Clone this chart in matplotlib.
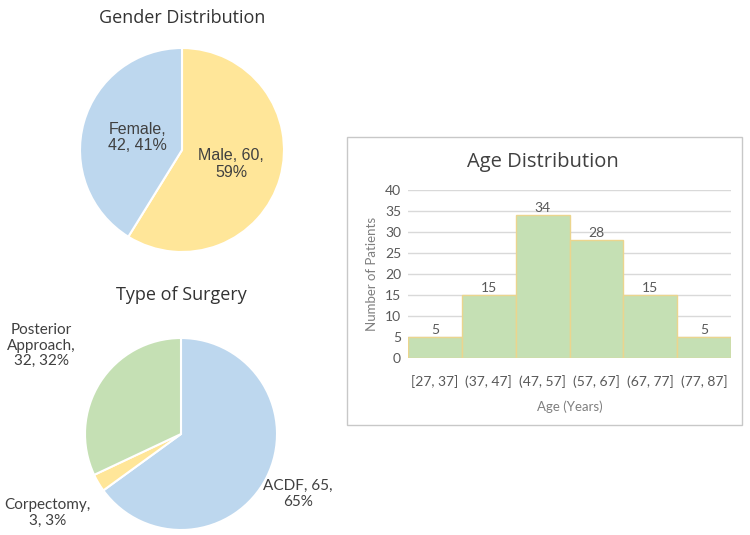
import numpy as np
import matplotlib
matplotlib.use('Agg')
import matplotlib.pyplot as plt
from matplotlib.patches import Rectangle

# ---------------- data ----------------
gender_labels = ['Male', 'Female']
gender_counts = [60, 42]
gender_pct = [59, 41]

surgery_labels = ['ACDF', 'Corpectomy', 'Posterior\nApproach']
surgery_counts = [65, 3, 32]
surgery_pct = [65, 3, 32]

age_bins = ['[27, 37]', '(37, 47]', '(47, 57]', '(57, 67]', '(67, 77]', '(77, 87]']
age_counts = [5, 15, 34, 28, 15, 5]

blue = '#BDD7EE'
yellow = '#FFE699'
green = '#C5E0B4'
txt = '#404040'

W, H = 750, 535
fig = plt.figure(figsize=(7.5, 5.35), dpi=100)
fig.patch.set_facecolor('white')


def px_axes(cx, cy, r):
    # square axes around a pie centre given in pixels (from top-left)
    return fig.add_axes([(cx - r) / W, 1 - (cy + r) / H, 2 * r / W, 2 * r / H])


def place_labels(ax, wedges, texts, dists, font, size):
    for w, t, d in zip(wedges, texts, dists):
        ang = np.deg2rad((w.theta1 + w.theta2) / 2)
        ax.text(d * np.cos(ang), d * np.sin(ang), t, ha='center', va='center',
                fontsize=size, color=txt, family=font, linespacing=1.15,
                clip_on=False)


# ---------------- gender pie ----------------
ax1 = px_axes(182, 150, 102)
w1, _ = ax1.pie(gender_counts, colors=[yellow, blue], startangle=90, counterclock=False,
                wedgeprops=dict(edgecolor='white', linewidth=1.5))
ax1.set_xlim(-1, 1)
ax1.set_ylim(-1, 1)
lab1 = ['%s, %d,\n%d%%' % (l, c, p) for l, c, p in zip(gender_labels, gender_counts, gender_pct)]
lab1[1] = '%s,\n%d, %d%%' % (gender_labels[1], gender_counts[1], gender_pct[1])
place_labels(ax1, w1, lab1, [0.5, 0.45], 'Liberation Sans', 11.5)
fig.text(182 / W, 1 - 18 / H, 'Gender Distribution', ha='center', va='center',
         fontsize=13, color='#333333', family='Open Sans')

# ---------------- surgery pie ----------------
ax2 = px_axes(181, 434, 96)
w2, _ = ax2.pie(surgery_counts, colors=[blue, yellow, green], startangle=90, counterclock=False,
                wedgeprops=dict(edgecolor='white', linewidth=1.5))
ax2.set_xlim(-1, 1)
ax2.set_ylim(-1, 1)
lab2 = ['%s, %d,\n%d%%' % (surgery_labels[0], surgery_counts[0], surgery_pct[0]),
        '%s,\n%d, %d%%' % (surgery_labels[1], surgery_counts[1], surgery_pct[1]),
        '%s,\n%d, %d%%' % (surgery_labels[2], surgery_counts[2], surgery_pct[2])]
place_labels(ax2, w2, lab2, [1.37, 1.62, 1.72], 'Lato', 11)
fig.text(181 / W, 1 - 295 / H, 'Type of Surgery', ha='center', va='center',
         fontsize=13, color='#333333', family='Open Sans')

# ---------------- age histogram ----------------
panel = Rectangle((347 / W, 1 - 425 / H), 395 / W, 288 / H,
                  transform=fig.transFigure, facecolor='white',
                  edgecolor='#C8C8C8', linewidth=1, zorder=-1)
fig.patches.append(panel)
ax3 = fig.add_axes([408 / W, 1 - 358 / H, 323 / W, 168 / H])
ax3.set_zorder(2)
ax3.patch.set_alpha(0)
x = np.arange(len(age_bins))
bars = ax3.bar(x, age_counts, width=1.0, color=green, edgecolor='#EBD58E', linewidth=1, zorder=2)
ax3.bar_label(bars, padding=1, fontsize=10, color='#595959', family='Lato')
ax3.set_xlim(-0.5, len(age_bins) - 0.5)
ax3.set_ylim(0, 40)
ax3.set_yticks(range(0, 41, 5))
ax3.set_xticks(x)
ax3.set_xticklabels(age_bins)
ax3.yaxis.grid(True, color='#D9D9D9', linewidth=1, zorder=0)
ax3.set_axisbelow(True)
for s in ax3.spines.values():
    s.set_visible(False)
ax3.tick_params(length=0, labelsize=10, colors='#595959', pad=5)
ax3.tick_params(axis='x', pad=12)
for t in ax3.get_xticklabels() + ax3.get_yticklabels():
    t.set_family('Lato')
ax3.set_ylabel('Number of Patients', fontsize=9.5, color='#7F7F7F', family='Lato', labelpad=5)
ax3.set_xlabel('Age (Years)', fontsize=9.5, color='#7F7F7F', family='Lato', labelpad=9)
fig.text(543 / W, 1 - 162 / H, 'Age Distribution', ha='center', va='center',
         fontsize=14.5, color='#404040', family='Open Sans')

fig.savefig('out.png', dpi=100)
